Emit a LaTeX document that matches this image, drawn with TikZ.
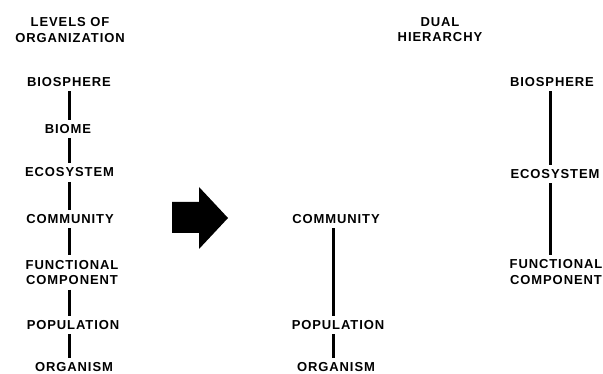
\documentclass[tikz,border=0pt]{standalone}
\usepackage{fontspec}
\setmainfont{Liberation Sans}[LetterSpace=7]
\begin{document}
\begin{tikzpicture}[x=1pt,y=-1pt,
  lbl/.style={font=\bfseries\fontsize{13}{15.5}\selectfont, align=center,
    inner xsep=0pt, inner ysep=4.5pt, text=black},
  ttl/.style={lbl, inner ysep=0pt},
  link/.style={draw=black, line width=3pt}]
\useasboundingbox (0,0) rectangle (603,374);
% titles
\node[ttl] (t1) at (70,30) {LEVELS OF\\ORGANIZATION};
\node[ttl] (t2) at (440,29.5) {DUAL\\HIERARCHY};
% left column
\node[lbl] (l1) at (69,82) {BIOSPHERE};
\node[lbl] (l2) at (68,129) {BIOME};
\node[lbl] (l3) at (69.5,172.5) {ECOSYSTEM};
\node[lbl] (l4) at (70,219) {COMMUNITY};
\node[lbl] (l5) at (72,272.5) {FUNCTIONAL\\COMPONENT};
\node[lbl] (l6) at (73,325) {POPULATION};
\node[lbl] (l7) at (74,367.5) {ORGANISM};
\foreach \a/\b in {l1/l2,l2/l3,l3/l4,l4/l5,l5/l6,l6/l7}
  \draw[link] (\a.south -| 69,0) -- (\b.north -| 69,0);
% arrow
\fill[black] (172,202) -- (199,202) -- (199,187) -- (228,218) -- (199,249)
  -- (199,233) -- (172,233) -- cycle;
% middle column
\node[lbl] (m1) at (336,219) {COMMUNITY};
\node[lbl] (m2) at (338,325) {POPULATION};
\node[lbl] (m3) at (336,367.5) {ORGANISM};
\draw[link] (m1.south -| 333,0) -- (m2.north -| 333,0);
\draw[link] (m2.south -| 333,0) -- (m3.north -| 333,0);
% right column
\node[lbl] (r1) at (552,82) {BIOSPHERE};
\node[lbl] (r2) at (555,174) {ECOSYSTEM};
\node[lbl] (r3) at (556,272) {FUNCTIONAL\\COMPONENT};
\draw[link] (r1.south -| 550,0) -- (r2.north -| 550,0);
\draw[link] (r2.south -| 550,0) -- (r3.north -| 550,0);
\end{tikzpicture}
\end{document}
